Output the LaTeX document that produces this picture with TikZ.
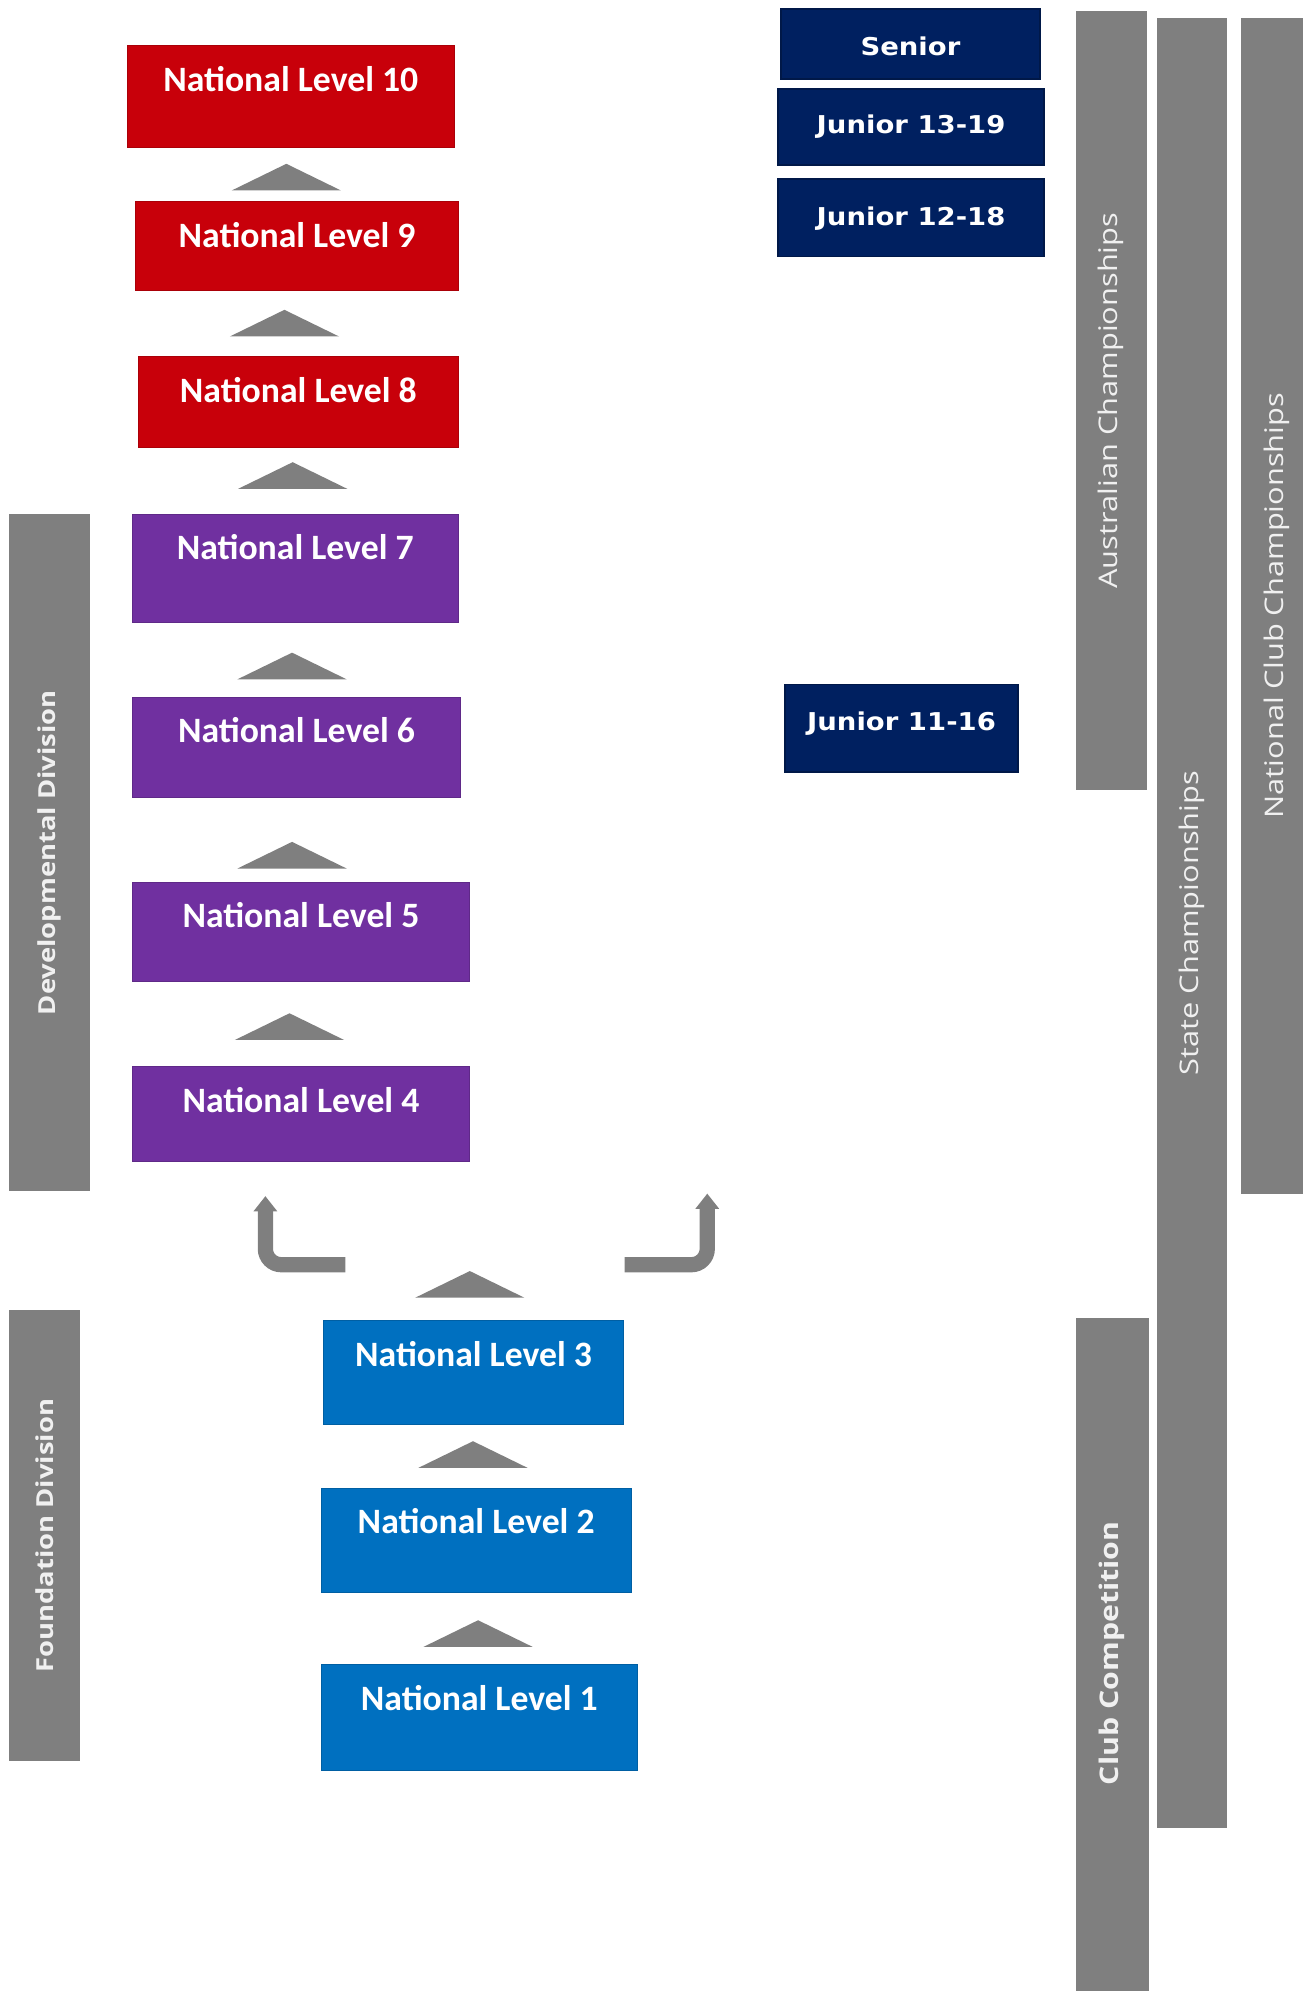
\documentclass[tikz,border=0pt]{standalone}
\usepackage{fontspec}
\setmainfont{Carlito}
\newfontfamily\barfont{Open Sans}
\newfontfamily\agefont{DejaVu Sans}
\usepackage{xcolor}
\definecolor{nlRed}{HTML}{C8000A}
\definecolor{nlPurple}{HTML}{7030A0}
\definecolor{nlBlue}{HTML}{0070C0}
\definecolor{ageNavy}{HTML}{002060}
\definecolor{barGrey}{HTML}{7F7F7F}
\definecolor{barText}{HTML}{F0F0F0}
\usetikzlibrary{calc,fit}
\usetikzlibrary{arrows.meta}
\newcommand{\wide}[2][1.2]{\scalebox{#1}[1]{#2}}
\tikzset{
    lvlbox/.style={rectangle,inner sep=0pt,outer sep=0pt},
    lvltext/.style={text=white,inner sep=0pt,font=\fontsize{16}{19}\selectfont\bfseries},
    agebox/.style={rectangle,inner sep=0pt,outer sep=0pt,fill=ageNavy,draw=ageNavy!75!black,line width=0.8pt},
    agetext/.style={inner sep=0pt,text=white,font=\agefont\fontsize{11}{13}\selectfont\bfseries},
    sidebar/.style={rectangle,inner sep=0pt,outer sep=0pt,fill=barGrey},
    bartext/.style={rotate=90,inner sep=0pt,text=barText,font=\barfont\fontsize{11.5}{14}\selectfont},
    chevron/.style={fill=barGrey},
    bentarrow/.style={draw=barGrey,line width=0.24cm,rounded corners=0.25cm,-{Triangle[width=0.36cm,length=0.24cm]}}
}

\begin{document}
\begin{tikzpicture}[x=0.02cm, y=-0.02cm]
  % page
  \useasboundingbox (0,0) rectangle (1026,1568);

  % --- level boxes (name/left/top/right/bottom/colour/label)
  \foreach \n/\xa/\ya/\xb/\yb/\col/\txt in {
      nl10/100/36/358/116/nlRed/National Level 10,
      nl9/107/159/361/229/nlRed/National Level 9,
      nl8/109/281/361/352/nlRed/National Level 8,
      nl7/104/405/361/490/nlPurple/National Level 7,
      nl6/104/549/363/628/nlPurple/National Level 6,
      nl5/104/695/370/773/nlPurple/National Level 5,
      nl4/104/840/370/915/nlPurple/National Level 4,
      nl3/255/1040/491/1122/nlBlue/National Level 3,
      nl2/253/1172/497/1254/nlBlue/National Level 2,
      nl1/253/1311/502/1394/nlBlue/National Level 1}
  {
    \node[lvlbox,fill=\col,draw=\col!85!black,fit={(\xa,\ya) (\xb,\yb)}] (\n) {};
    \node[lvltext] (\n-t) at ($(\n.north)+(0,26)$) {\txt};
  }

  % chevrons above each level (lower box/shift/gap)
  \foreach \lo/\dx/\gap in {nl9/-8.5/9, nl8/-11/16, nl7/-2/20, nl6/-3.5/14, nl5/-7/11,
                            nl4/-9/21, nl3/-3/18, nl2/-2.5/16, nl1/-1/14}
    \fill[chevron] ($(\lo.north)+(\dx-43,-\gap)$) -- ++(43,-21) -- ++(43,21) -- cycle;

  % bent arrows out of the foundation levels
  \coordinate (lfrom) at (272,996);
  \coordinate (lto)   at (209,942);
  \coordinate (rfrom) at (492,996);
  \coordinate (rto)   at (557,940);
  \draw[bentarrow] (lfrom) -| (lto);
  \draw[bentarrow] (rfrom) -| (rto);

  % --- age group boxes (name/left/top/right/bottom/lift/label)
  \foreach \n/\xa/\ya/\xb/\yb/\up/\txt in {
      senior/615/7/819/62/-2/Senior,
      jr1319/613/70/822/130/0/Junior 13-19,
      jr1218/613/141/822/202/-1/Junior 12-18,
      jr1116/618/539/802/608/4/Junior 11-16}
  {
    \node[agebox,fit={(\xa,\ya) (\xb,\yb)}] (\n) {};
    \node[agetext] (\n-t) at ($(\n.center)+(0,-\up)$) {\wide[1.12]{\txt}};
  }

  % --- grey side bars
  \foreach \n/\xa/\ya/\xb/\yb in {devdiv/7/405/71/938, fnddiv/7/1032/63/1387,
                                  ausch/847/9/903/622, statech/911/14/966/1440,
                                  natclub/977/14/1030/940, clubcomp/847/1038/905/1572}
    \node[sidebar,fit={(\xa,\ya) (\xb,\yb)}] (\n) {};

  \node[bartext,font=\barfont\fontsize{10.5}{13}\selectfont\bfseries] (devdiv-t) at (devdiv) {\wide[1.17]{Developmental Division}};
  \node[bartext,font=\barfont\fontsize{10.5}{13}\selectfont\bfseries] (fnddiv-t) at (fnddiv) {\wide[1.17]{Foundation Division}};
  \node[bartext] (ausch-t) at (ausch) {\wide{Australian Championships}};
  \node[bartext] (statech-t) at (statech) {\wide{State Championships}};
  \node[bartext] (natclub-t) at ($(natclub)+(2,0)$) {\wide{National Club Championships}};
  \node[bartext,font=\barfont\fontsize{11.5}{14}\selectfont\bfseries] (clubcomp-t) at ($(clubcomp)+(0,-3)$) {\wide[1.18]{Club Competition}};
\end{tikzpicture}
\end{document}
